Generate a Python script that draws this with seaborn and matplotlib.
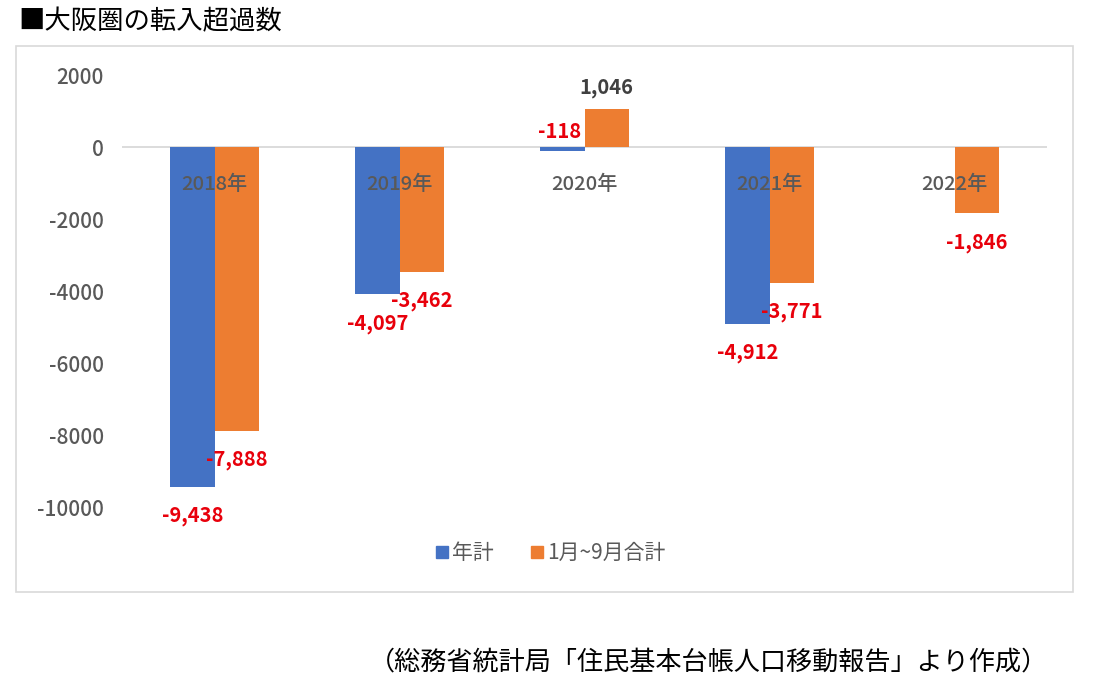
import matplotlib
matplotlib.use("Agg")
import matplotlib.pyplot as plt
import seaborn as sns
import pandas as pd
from matplotlib.patches import Rectangle
from matplotlib.lines import Line2D

years = ["2018年", "2019年", "2020年", "2021年", "2022年"]
series_names = ["年計", "1月~9月合計"]
annual_total = [-9438, -4097, -118, -4912, None]
jan_sep_total = [-7888, -3462, 1046, -3771, -1846]
y_ticks = [2000, 0, -2000, -4000, -6000, -8000, -10000]

title = "■大阪圏の転入超過数"
source = "（総務省統計局「住民基本台帳人口移動報告」より作成）"

colors = ["#4472C4", "#ED7D31"]
gray = "#595959"
dark = "#404040"
red = "#E8000B"

sns.set_theme(style="white")
plt.rcParams["font.family"] = ["Noto Sans CJK JP", "DejaVu Sans"]

rows = []
for y, a, b in zip(years, annual_total, jan_sep_total):
    rows.append({"year": y, "series": series_names[0], "value": a})
    rows.append({"year": y, "series": series_names[1], "value": b})
df = pd.DataFrame(rows)

W, H = 1111, 690
fig = plt.figure(figsize=(W / 100, H / 100), dpi=100)
fig.patch.set_facecolor("white")

# chart border
fig.patches.append(Rectangle((16 / W, 1 - 592 / H), (1073 - 16) / W, (592 - 46) / H,
                             transform=fig.transFigure, fill=False,
                             edgecolor="#d9d9d9", linewidth=1.2))

ax = fig.add_axes([122 / W, 1 - 507 / H, (1047 - 122) / W, (507 - 75) / H])
sns.barplot(data=df.dropna(), x="year", y="value", hue="series", order=years,
            hue_order=series_names, palette=colors, width=0.476, gap=0,
            saturation=1, ax=ax, legend=False, linewidth=0)

ax.set_xlim(-0.5, 4.5)
ax.set_ylim(-10000, 2000)
ax.set_yticks(y_ticks)
ax.set_yticklabels([str(t) for t in y_ticks])
ax.tick_params(axis="y", length=0, pad=13, labelsize=15, labelcolor=gray)
for lbl in ax.get_yticklabels():
    lbl.set_fontweight("medium")
ax.set_xticks([])
ax.set_xlabel("")
ax.set_ylabel("")
for s in ax.spines.values():
    s.set_visible(False)
ax.axhline(0, color="#d9d9d9", linewidth=1.3, zorder=0.5)

# category labels next to axis
for i, y in enumerate(years):
    ax.annotate(y, (i, 0), xytext=(0, -37), textcoords="offset pixels",
                ha="center", va="center", fontsize=14.5, fontweight="medium",
                color=gray, zorder=5)

# data labels
bw = 0.476 / 2
for j, vals in enumerate([annual_total, jan_sep_total]):
    for i, v in enumerate(vals):
        if v is None:
            continue
        x = i - bw / 2 + j * bw
        c = red
        dx = 0
        if v >= 0:
            y, off, c = v, 22, dark
        elif abs(v) < 500:
            y, off, dx = 0, 15, -3
        else:
            y, off = v, -29
        ax.annotate(f"{v:,}", (x, y), xytext=(dx, off), textcoords="offset pixels",
                    ha="center", va="center", fontsize=14.5, fontweight="bold",
                    color=c, zorder=6)

# legend
handles = [Line2D([0], [0], marker="s", linestyle="none", markersize=8,
                  markerfacecolor=c, markeredgecolor=c) for c in colors]
fig.legend(handles, series_names, loc="center", bbox_to_anchor=(549 / W, 1 - 553 / H),
           ncol=2, frameon=False, fontsize=15, labelcolor=gray,
           handletextpad=0.05, columnspacing=1.6, handlelength=0.9)

fig.text(18 / W, 1 - 22 / H, title, ha="left", va="center", fontsize=19, color="black")
fig.text(1048 / W, 1 - 662 / H, source, ha="right", va="center", fontsize=18.8, color="black")

fig.savefig("out.png", dpi=100, facecolor="white")
